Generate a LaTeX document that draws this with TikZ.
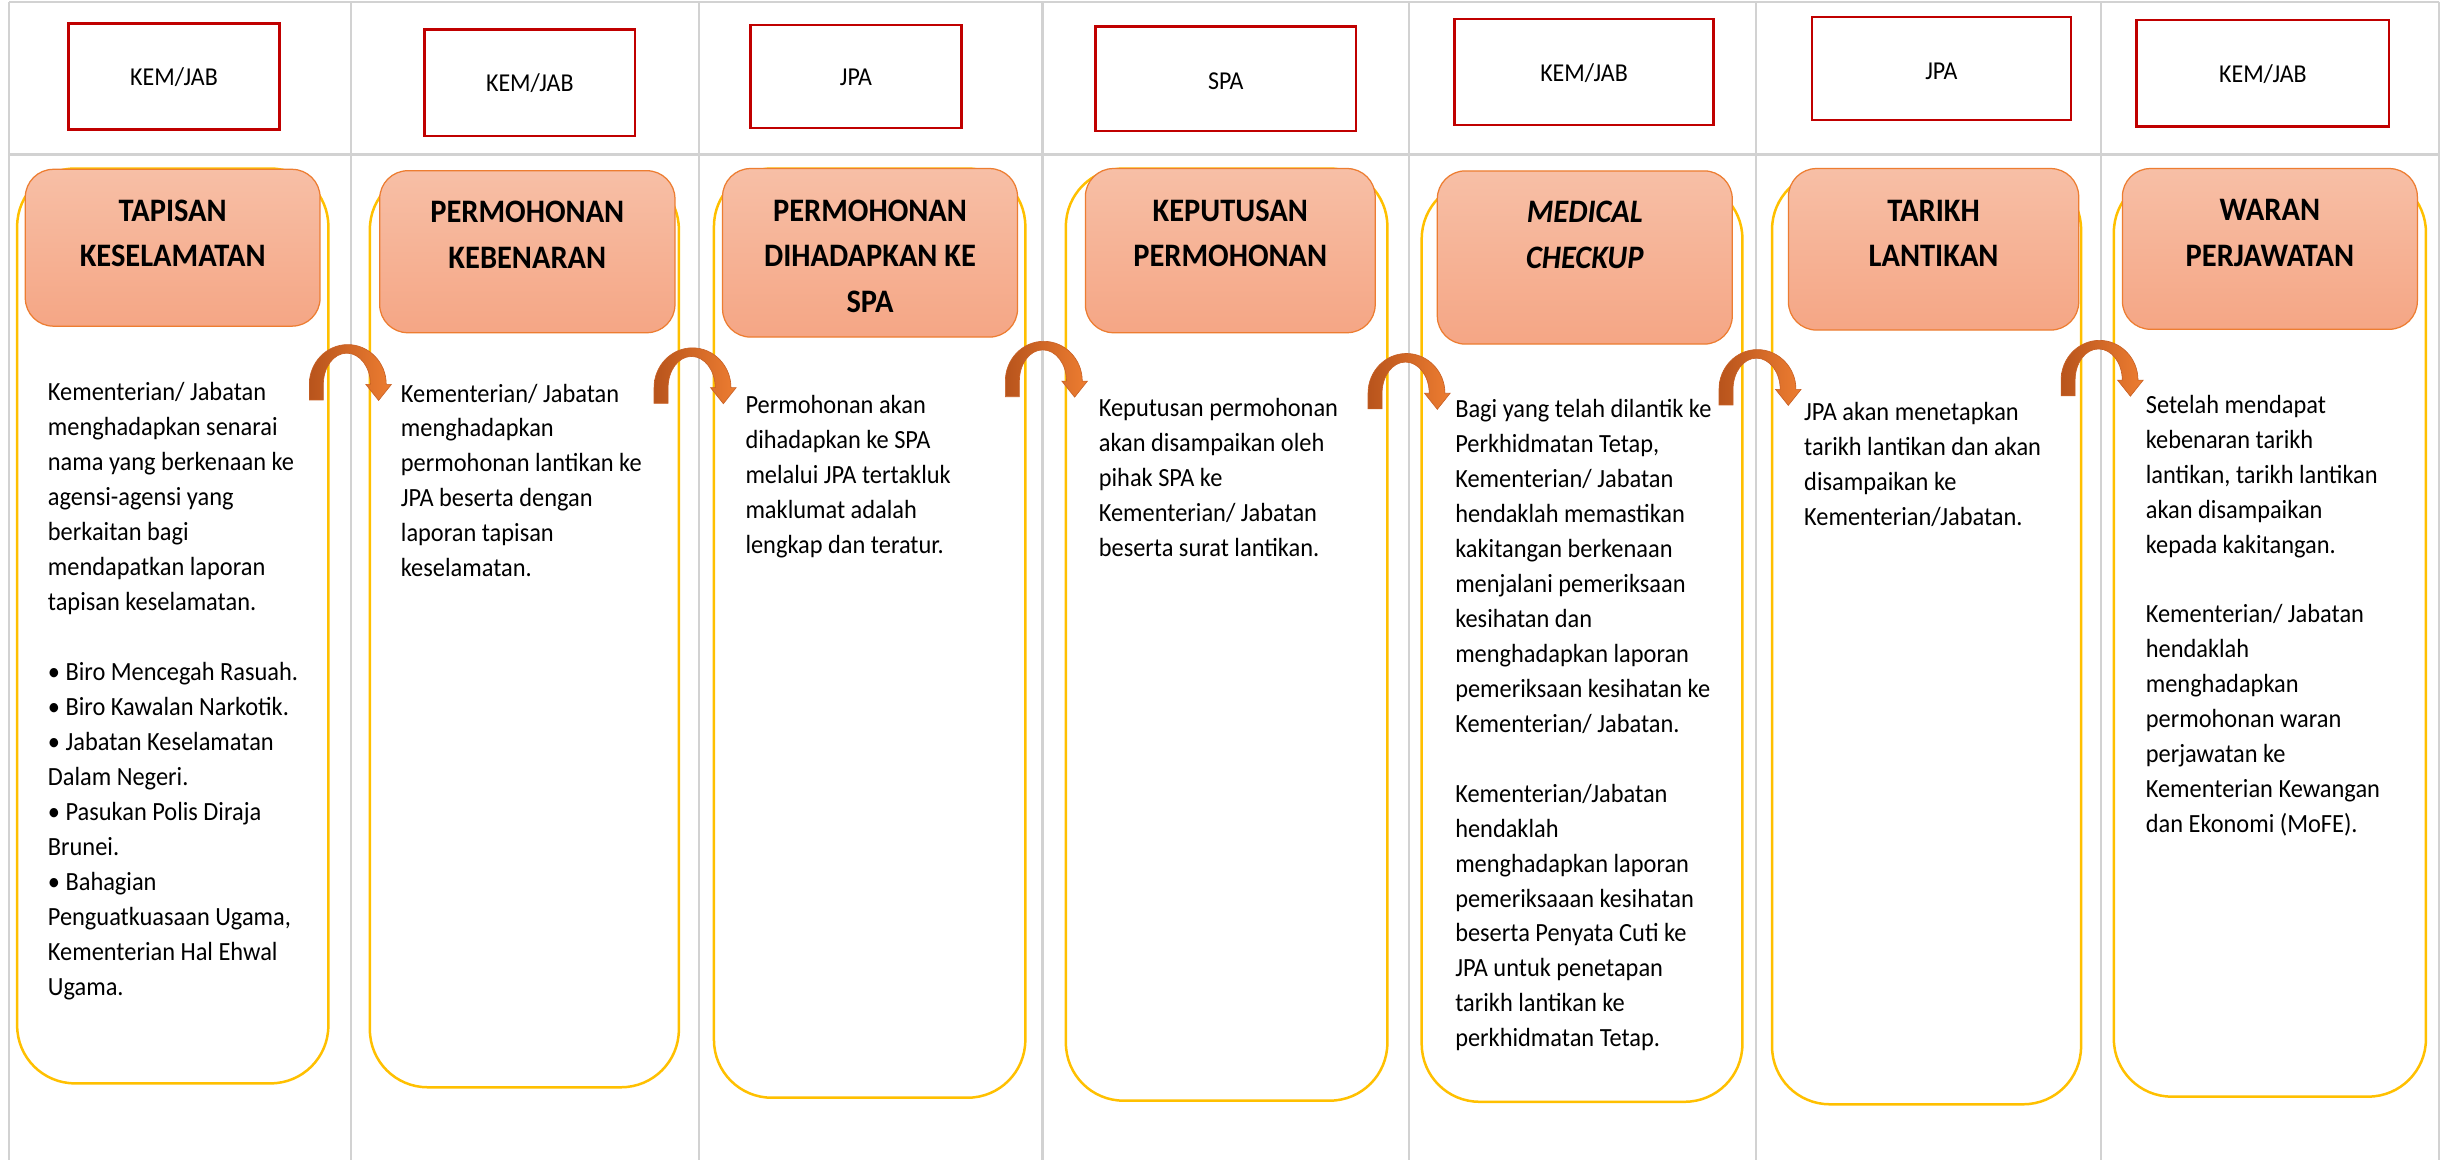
\documentclass[tikz,border=0pt]{standalone}
\usepackage{fontspec}
\setmainfont{Carlito}[FakeStretch=0.93]
\definecolor{gridgray}{RGB}{210,210,210}
\definecolor{boxred}{RGB}{192,0,0}
\definecolor{gold}{RGB}{255,192,0}
\definecolor{salmonTop}{RGB}{247,191,166}
\definecolor{salmonBot}{RGB}{245,166,133}
\definecolor{salmonEdge}{RGB}{237,125,49}
\definecolor{arrowDark}{RGB}{184,84,28}
\definecolor{arrowLight}{RGB}{237,125,49}
\definecolor{arrowEdge}{RGB}{200,96,36}
\begin{document}
\begin{tikzpicture}[x=1pt,y=-1pt,
  gridline/.style={draw=gridgray,line width=1.3pt},
  rolebox/.style={draw=boxred,line width=1.5pt,fill=white,inner sep=0pt,
    text height=11pt,text depth=0pt,font=\fontsize{16.5}{20}\selectfont},
  lane/.style={draw=gold,line width=1.6pt,fill=white,rounded corners=37pt,inner sep=0pt},
  stagebox/.style={draw=salmonEdge,line width=0.8pt,rounded corners=18pt,
    top color=salmonTop,bottom color=salmonBot,inner sep=0pt},
  stagetitle/.style={anchor=north,align=center,inner sep=0pt,
    font=\bfseries\fontsize{21}{29.3}\selectfont},
  bodytext/.style={anchor=north west,align=left,inner sep=0pt,
    font=\fontsize{16.8}{22.4}\selectfont},
  bend arrow/.pic={
    \path[left color=arrowDark,right color=arrowLight,draw=arrowEdge,line width=0.4pt]
      (0,0) -- (0,-10) .. controls (0,-24.1) and (11,-35.5) .. (24.6,-35.5)
      .. controls (38.2,-35.5) and (49.3,-24.1) .. (49.3,-10)
      -- (52.6,-10) -- (44.4,0.3) -- (36.2,-10) -- (39.2,-10)
      .. controls (39.2,-21) and (32.4,-30) .. (24,-30)
      .. controls (15.6,-30) and (9,-21) .. (9,-10) -- (9,0) -- cycle;
  }
]
% canvas
\useasboundingbox[fill=white] (0,0) rectangle (1568,743);

% table rules
\draw[gridline] (5.9,1.1) -- (1563,1.1);
\draw[gridline] (5.9,99) -- (1563,99);
\foreach \gx in {5.9,225,448,668,903,1125.5,1346,1563}
  \draw[gridline] (\gx,1.1) -- (\gx,743);

% lanes
\node[lane,minimum width=199.4pt,minimum height=586.2pt] (lane1) at (110.7,401.1) {};
\node[lane,minimum width=198pt,minimum height=586.7pt] (lane2) at (336,403.35) {};
\node[lane,minimum width=199.5pt,minimum height=595.4pt] (lane3) at (557.25,405.7) {};
\node[lane,minimum width=206pt,minimum height=597.3pt] (lane4) at (786,406.65) {};
\node[lane,minimum width=205.5pt,minimum height=590pt] (lane5) at (1013.75,411) {};
\node[lane,minimum width=198pt,minimum height=597.6pt] (lane6) at (1234.5,408.8) {};
\node[lane,minimum width=200pt,minimum height=590.7pt] (lane7) at (1454.5,407.35) {};

% stage boxes
\node[stagebox,minimum width=188.9pt,minimum height=100.5pt] (stage1) at (110.65,158.75) {};
\node[stagebox,minimum width=189.2pt,minimum height=103.8pt] (stage2) at (337.9,161.3) {};
\node[stagebox,minimum width=189pt,minimum height=108pt] (stage3) at (557.5,162) {};
\node[stagebox,minimum width=185.7pt,minimum height=105.2pt] (stage4) at (788.35,160.6) {};
\node[stagebox,minimum width=189pt,minimum height=111pt] (stage5) at (1015.5,165) {};
\node[stagebox,minimum width=186pt,minimum height=103.5pt] (stage6) at (1239,159.75) {};
\node[stagebox,minimum width=189pt,minimum height=103pt] (stage7) at (1454.5,159.5) {};

% stage titles
\node[stagetitle] (title1) at (110.65,125.5) {\rule{0pt}{16pt}TAPISAN\\KESELAMATAN};
\node[stagetitle] (title2) at (337.9,126.5) {\rule{0pt}{16pt}PERMOHONAN\\KEBENARAN};
\node[stagetitle] (title3) at (557.5,125.5) {\rule{0pt}{16pt}PERMOHONAN\\DIHADAPKAN KE\\SPA};
\node[stagetitle] (title4) at (788.35,125.5) {\rule{0pt}{16pt}KEPUTUSAN\\PERMOHONAN};
\node[stagetitle,font=\bfseries\itshape\fontsize{21}{29.3}\selectfont] (title5) at (1015.5,126.5) {\rule{0pt}{16pt}MEDICAL\\CHECKUP};
\node[stagetitle] (title6) at (1239,125.5) {\rule{0pt}{16pt}TARIKH\\LANTIKAN};
\node[stagetitle] (title7) at (1454.5,125) {\rule{0pt}{16pt}WARAN\\PERJAWATAN};

% responsible parties
\node[rolebox,minimum width=135pt,minimum height=68pt] (role1) at (111.5,49) {KEM/JAB};
\node[rolebox,minimum width=135pt,minimum height=68pt] (role2) at (339.5,53) {KEM/JAB};
\node[rolebox,minimum width=135pt,minimum height=66pt] (role3) at (548.5,49) {JPA};
\node[rolebox,minimum width=167pt,minimum height=67pt,text height=14pt] (role4) at (785.5,50.5) {SPA};
\node[rolebox,minimum width=166pt,minimum height=68pt,text height=13pt] (role5) at (1015,46) {KEM/JAB};
\node[rolebox,minimum width=166pt,minimum height=66pt,text height=14pt] (role6) at (1244,44) {JPA};
\node[rolebox,minimum width=162pt,minimum height=68pt,text height=12pt] (role7) at (1450,47) {KEM/JAB};

% flow arrows between lanes
\pic (flow1) at (198.2,256.3) {bend arrow};
\pic (flow2) at (419.1,258.4) {bend arrow};
\pic (flow3) at (644.2,254.2) {bend arrow};
\pic (flow4) at (876.6,262) {bend arrow};
\pic (flow5) at (1101.5,259.5) {bend arrow};
\pic (flow6) at (1320.7,253.6) {bend arrow};

% lane descriptions
\node[bodytext] (desc1) at (30.5,242.7) {\rule{0pt}{14pt}Kementerian/ Jabatan\\
menghadapkan senarai\\
nama yang berkenaan ke\\
agensi-agensi yang\\
berkaitan bagi\\
mendapatkan laporan\\
tapisan keselamatan.\\[22.4pt]
• Biro Mencegah Rasuah.\\
• Biro Kawalan Narkotik.\\
• Jabatan Keselamatan\\
Dalam Negeri.\\
• Pasukan Polis Diraja\\
Brunei.\\
• Bahagian\\
Penguatkuasaan Ugama,\\
Kementerian Hal Ehwal\\
Ugama.};

\node[bodytext] (desc2) at (256.7,243.4) {\rule{0pt}{14pt}Kementerian/ Jabatan\\
menghadapkan\\
permohonan lantikan ke\\
JPA beserta dengan\\
laporan tapisan\\
keselamatan.};

\node[bodytext] (desc3) at (477.5,250.8) {\rule{0pt}{14pt}Permohonan akan\\
dihadapkan ke SPA\\
melalui JPA tertakluk\\
maklumat adalah\\
lengkap dan teratur.};

\node[bodytext] (desc4) at (703.9,253) {\rule{0pt}{14pt}Keputusan permohonan\\
akan disampaikan oleh\\
pihak SPA ke\\
Kementerian/ Jabatan\\
beserta surat lantikan.};

\node[bodytext] (desc5) at (932.3,253.4) {\rule{0pt}{14pt}Bagi yang telah dilantik ke\\
Perkhidmatan Tetap,\\
Kementerian/ Jabatan\\
hendaklah memastikan\\
kakitangan berkenaan\\
menjalani pemeriksaan\\
kesihatan dan\\
menghadapkan laporan\\
pemeriksaan kesihatan ke\\
Kementerian/ Jabatan.\\[22.4pt]
Kementerian/Jabatan\\
hendaklah\\
menghadapkan laporan\\
pemeriksaaan kesihatan\\
beserta Penyata Cuti ke\\
JPA untuk penetapan\\
tarikh lantikan ke\\
perkhidmatan Tetap.};

\node[bodytext] (desc6) at (1155.9,255.1) {\rule{0pt}{14pt}JPA akan menetapkan\\
tarikh lantikan dan akan\\
disampaikan ke\\
Kementerian/Jabatan.};

\node[bodytext] (desc7) at (1374.8,250.6) {\rule{0pt}{14pt}Setelah mendapat\\
kebenaran tarikh\\
lantikan, tarikh lantikan\\
akan disampaikan\\
kepada kakitangan.\\[22.4pt]
Kementerian/ Jabatan\\
hendaklah\\
menghadapkan\\
permohonan waran\\
perjawatan ke\\
Kementerian Kewangan\\
dan Ekonomi (MoFE).};
\end{tikzpicture}
\end{document}
